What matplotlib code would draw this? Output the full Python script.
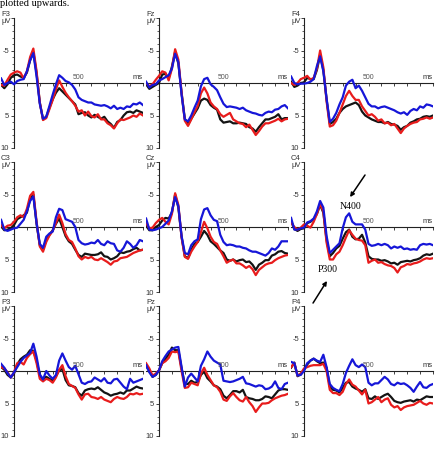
import numpy as np
import matplotlib
matplotlib.use("Agg")
import matplotlib.pyplot as plt
from matplotlib.ticker import MultipleLocator

# ERP grand averages, microvolts, one sample every 25 ms from -100 to 1000 ms
times = np.arange(-100, 1001, 25)

F3_black = [0.3, 0.8, 0.2, -0.8, -1.2, -1.3, -1.0, -0.8, -1.6, -3.5, -4.8, -1.5, 3.0, 5.6, 5.2, 3.8, 2.5, 1.5, 0.8, 1.3, 1.8, 2.3, 2.8, 3.3, 4.8, 4.6, 4.5, 5.0, 5.3, 4.9, 5.2, 5.5, 5.2, 5.9, 6.3, 6.9, 6.0, 5.7, 5.0, 4.5, 4.4, 4.6, 4.2, 4.4, 4.6]
F3_red = [0.3, 0.4, -0.5, -1.3, -1.6, -1.8, -1.6, -0.7, -1.8, -4.0, -5.3, -1.8, 3.0, 5.7, 5.4, 4.0, 2.6, 1.0, -0.4, 0.6, 1.5, 2.2, 2.8, 3.5, 4.4, 4.2, 5.0, 4.4, 5.1, 5.3, 4.8, 5.6, 5.6, 6.2, 6.5, 7.0, 6.2, 5.6, 5.7, 5.5, 5.3, 5.0, 5.2, 4.7, 5.0]
F3_blue = [-0.7, 0.3, 0.0, -0.2, 0.2, -0.3, -0.5, -0.6, -1.8, -3.5, -4.6, -1.0, 3.2, 5.5, 5.2, 3.5, 1.8, 0.2, -1.2, -0.8, -0.3, -0.1, 0.3, 1.0, 2.2, 2.6, 2.8, 3.0, 3.0, 3.3, 3.4, 3.5, 3.4, 3.6, 3.9, 3.5, 4.0, 3.8, 4.0, 3.6, 3.7, 3.2, 3.3, 3.0, 3.4]

Fz_black = [0.2, 0.9, 0.6, 0.3, 0.0, -1.3, -1.4, -0.7, -2.5, -4.8, -3.0, 1.5, 5.5, 6.4, 5.5, 4.7, 3.9, 2.7, 2.4, 2.6, 3.4, 3.8, 4.1, 5.6, 6.1, 6.0, 5.9, 6.2, 6.2, 6.1, 6.2, 6.3, 6.8, 7.0, 7.5, 6.8, 6.2, 5.6, 5.6, 5.4, 5.2, 4.8, 5.6, 5.4, 5.4]
Fz_red = [0.0, 0.5, 0.2, -0.5, -1.1, -1.8, -1.6, -0.4, -2.2, -5.2, -3.6, 1.5, 5.8, 6.6, 5.6, 4.5, 3.5, 1.6, 0.7, 1.6, 3.0, 3.6, 4.0, 4.8, 5.2, 4.9, 4.6, 5.6, 5.9, 6.2, 6.3, 6.8, 6.4, 7.2, 8.0, 7.4, 6.7, 6.2, 6.2, 6.0, 5.8, 5.5, 5.9, 5.6, 5.5]
Fz_blue = [-0.2, 0.7, 0.3, 0.2, -0.4, -0.6, -0.9, -1.2, -2.2, -4.5, -3.2, 1.8, 5.6, 5.9, 5.0, 3.8, 2.7, 0.5, -0.6, -0.8, 0.2, 0.6, 1.1, 2.2, 3.2, 3.7, 3.6, 3.7, 3.8, 4.0, 3.8, 4.2, 4.4, 4.6, 4.7, 4.9, 5.0, 4.6, 4.4, 4.5, 4.1, 4.0, 3.6, 3.4, 3.9]

F4_black = [-0.2, 0.6, 0.4, 0.0, -0.1, -0.8, -0.6, -0.6, -2.0, -4.3, -2.0, 2.5, 6.3, 6.0, 5.5, 4.6, 4.0, 3.6, 3.4, 3.2, 3.0, 3.4, 4.4, 5.0, 5.3, 5.6, 5.8, 6.0, 6.0, 6.2, 6.0, 6.3, 6.4, 6.6, 7.2, 6.8, 6.6, 6.1, 5.9, 5.6, 5.5, 5.2, 5.1, 5.2, 5.0]
F4_red = [0.0, 0.3, 0.0, -0.6, -0.8, -1.1, -0.5, -0.8, -2.2, -5.0, -2.4, 2.8, 6.7, 6.5, 5.8, 4.6, 3.3, 2.0, 1.2, 2.0, 2.6, 2.6, 3.6, 4.3, 5.0, 4.8, 5.2, 5.8, 5.6, 6.2, 6.1, 6.5, 6.3, 7.0, 7.7, 7.0, 6.6, 6.3, 6.1, 6.0, 5.6, 5.5, 5.3, 5.5, 5.3]
F4_blue = [-1.0, 0.0, 0.2, 0.1, 0.1, 0.0, -0.2, -0.6, -2.6, -4.1, -1.8, 2.4, 6.0, 5.5, 4.6, 3.3, 2.2, 0.4, -0.2, -0.5, 0.8, 0.4, 1.2, 2.2, 3.2, 3.6, 3.6, 3.9, 3.7, 3.6, 3.8, 4.0, 4.2, 4.5, 4.7, 4.5, 4.9, 4.3, 4.0, 4.2, 3.6, 3.8, 3.3, 3.4, 3.6]

C3_black = [-0.1, 0.5, 0.4, 0.2, -0.3, -1.2, -1.5, -1.8, -2.2, -4.4, -5.0, -0.5, 2.8, 3.5, 2.0, 1.2, 0.5, -0.5, -1.3, 0.0, 1.4, 2.2, 2.6, 3.5, 4.3, 4.6, 4.1, 4.2, 4.3, 4.3, 4.2, 3.9, 4.5, 4.6, 5.0, 4.8, 4.5, 3.9, 4.0, 3.8, 3.7, 3.4, 3.2, 3.6, 3.5]
C3_red = [-0.3, 0.2, -0.2, -0.3, -0.8, -1.5, -1.8, -1.5, -2.8, -4.8, -5.4, -0.8, 3.0, 3.8, 2.3, 1.3, 0.6, -0.6, -1.9, -0.6, 1.1, 2.0, 2.3, 3.3, 4.5, 5.0, 4.6, 4.8, 4.6, 5.0, 5.1, 4.8, 5.1, 5.4, 5.8, 5.3, 5.2, 4.8, 4.7, 4.6, 4.3, 4.0, 3.8, 3.6, 3.5]
C3_blue = [-1.1, 0.4, 0.6, 0.4, 0.2, 0.1, -0.5, -1.1, -2.4, -4.0, -4.7, -0.6, 2.6, 3.2, 1.5, 1.0, 0.7, -1.5, -2.8, -2.6, -1.2, -1.0, -0.8, 0.0, 2.0, 2.5, 2.7, 2.6, 2.4, 2.5, 2.0, 2.6, 2.8, 2.2, 2.5, 2.6, 3.6, 3.8, 3.2, 2.2, 2.6, 3.2, 2.8, 2.0, 2.2]

Cz_black = [-0.2, 0.5, 0.5, 0.0, -0.3, -1.0, -1.4, -1.3, -2.2, -5.0, -3.0, 1.5, 4.5, 4.8, 3.5, 2.6, 2.3, 1.5, 0.6, 1.2, 2.2, 2.6, 3.1, 3.6, 4.0, 5.0, 5.2, 5.0, 5.3, 5.1, 5.0, 5.4, 5.3, 5.8, 6.6, 5.8, 5.5, 5.1, 5.1, 4.4, 4.2, 3.8, 3.7, 4.0, 4.1]
Cz_red = [-0.6, 0.2, 0.1, -0.6, -1.1, -1.4, -0.8, -0.4, -2.0, -5.2, -3.4, 1.6, 4.6, 4.9, 3.8, 3.0, 2.3, 0.8, -0.8, 0.2, 1.5, 2.3, 2.6, 3.6, 4.5, 5.5, 5.2, 5.0, 5.6, 5.6, 5.9, 6.3, 6.0, 6.5, 7.4, 6.6, 6.2, 5.8, 5.6, 5.5, 5.1, 4.8, 4.6, 4.4, 4.3]
Cz_blue = [-1.3, 0.4, 0.5, 0.4, 0.2, 0.0, -0.5, -1.0, -2.4, -4.6, -3.2, 1.4, 4.0, 4.2, 2.8, 2.2, 1.9, -1.2, -2.7, -2.9, -1.8, -1.1, -0.9, 1.2, 2.3, 2.8, 2.7, 2.8, 3.0, 3.0, 3.2, 3.3, 3.6, 3.8, 3.8, 4.0, 4.2, 4.4, 4.0, 3.3, 3.5, 3.0, 2.2, 2.2, 2.2]

C4_black = [-0.9, 0.3, 0.6, 0.3, 0.2, -0.6, -0.8, -1.2, -2.0, -3.4, -2.2, 2.0, 4.5, 4.0, 3.3, 2.9, 1.8, 0.8, 0.4, 1.5, 1.9, 1.8, 1.2, 2.4, 4.5, 4.9, 5.0, 5.0, 5.2, 5.1, 5.3, 5.6, 5.5, 5.8, 5.4, 5.3, 5.2, 5.3, 5.1, 5.0, 4.8, 4.4, 4.2, 4.3, 4.1]
C4_red = [-0.7, 0.0, 0.4, 0.1, -0.4, -0.2, 0.1, -0.8, -2.0, -3.6, -2.4, 2.4, 5.0, 5.0, 4.2, 3.8, 2.8, 1.6, 0.5, 1.2, 1.8, 2.0, 2.1, 2.8, 5.5, 5.2, 5.0, 5.5, 5.4, 5.7, 5.9, 6.0, 6.3, 7.0, 6.2, 6.0, 5.7, 5.8, 5.6, 5.5, 5.3, 5.0, 4.8, 4.9, 4.8]
C4_blue = [-1.4, 0.4, 0.4, 0.2, 0.1, -0.7, -0.9, -1.3, -2.4, -4.0, -3.0, 1.4, 4.0, 3.5, 3.0, 2.5, 0.2, -1.5, -2.1, -0.8, -0.4, -0.4, -0.4, 0.4, 2.6, 2.9, 2.8, 2.6, 2.8, 2.6, 2.8, 3.3, 3.0, 3.2, 3.0, 3.4, 3.3, 3.5, 3.4, 3.5, 2.8, 2.6, 2.7, 2.6, 2.8]

P3_black = [-0.6, -0.2, 0.6, 1.0, 0.4, -1.0, -1.8, -2.2, -2.5, -3.2, -3.1, -1.6, 0.8, 1.2, 0.9, 1.2, 1.5, 0.8, -0.1, -0.3, 1.4, 2.2, 2.3, 2.5, 3.4, 3.8, 3.0, 2.8, 2.7, 2.8, 2.5, 2.9, 3.3, 3.5, 3.8, 3.6, 3.5, 3.3, 3.5, 3.0, 3.0, 2.7, 2.4, 2.6, 2.7]
P3_red = [-0.6, -0.4, 0.2, 1.0, 0.2, -1.2, -1.4, -1.0, -2.0, -2.6, -3.0, -1.2, 1.2, 1.6, 1.2, 1.4, 1.8, 1.0, -0.2, -0.9, 0.8, 2.0, 2.3, 2.6, 3.6, 4.4, 3.6, 3.5, 4.0, 4.1, 4.3, 4.0, 4.4, 4.6, 4.8, 4.3, 4.0, 4.2, 4.3, 4.0, 3.5, 3.6, 3.4, 3.6, 3.5]
P3_blue = [-1.1, -0.5, 0.3, 1.0, 0.2, -0.6, -1.4, -2.0, -2.4, -2.8, -4.2, -2.2, 0.5, 1.3, 0.0, 0.7, 1.2, 0.6, -1.6, -2.7, -1.6, -0.6, -0.2, -0.8, 0.5, 1.8, 2.0, 1.7, 1.6, 1.0, 1.3, 1.6, 1.1, 1.8, 1.9, 1.3, 1.2, 1.8, 2.4, 2.8, 1.2, 1.8, 1.6, 1.4, 1.2]

Pz_black = [-0.8, 0.0, 0.9, 0.6, -0.1, -1.2, -1.9, -2.5, -3.6, -3.2, -3.2, -0.4, 2.0, 2.0, 1.5, 1.8, 1.7, 0.6, 0.1, 1.1, 1.6, 2.2, 2.4, 2.8, 3.8, 4.2, 3.7, 3.1, 3.1, 3.3, 2.9, 4.0, 4.2, 4.3, 4.5, 4.5, 4.3, 3.9, 4.0, 4.2, 3.6, 3.0, 2.8, 2.8, 2.9]
Pz_red = [-1.2, -0.4, 0.7, 0.4, -0.1, -1.2, -1.5, -2.0, -3.0, -2.9, -3.0, 0.0, 2.6, 2.5, 1.8, 2.0, 2.2, 0.4, -0.5, 0.6, 1.4, 2.2, 2.5, 3.2, 4.4, 4.6, 3.9, 3.4, 4.0, 4.5, 4.7, 4.0, 4.8, 5.4, 6.3, 5.6, 5.0, 5.0, 4.9, 4.5, 4.2, 4.0, 3.8, 3.7, 3.5]
Pz_blue = [-0.9, 0.2, 0.9, 0.6, -0.1, -1.5, -2.3, -3.0, -3.3, -3.6, -3.7, -0.6, 2.4, 1.0, 0.4, 1.0, 1.6, -0.8, -1.8, -3.0, -2.2, -1.6, -1.3, -1.0, 1.5, 1.6, 1.7, 1.6, 1.4, 1.2, 0.9, 1.9, 2.0, 2.2, 2.4, 2.2, 2.3, 2.8, 2.7, 2.4, 1.6, 2.6, 2.8, 2.0, 1.8]

P4_black = [-0.5, -1.3, 0.8, 0.5, -0.2, -1.0, -1.6, -1.9, -1.5, -1.2, -1.3, -0.5, 2.4, 2.9, 3.0, 3.3, 2.6, 1.8, 1.7, 2.4, 2.7, 2.9, 3.2, 2.8, 4.2, 4.3, 3.9, 4.3, 4.0, 3.7, 3.5, 4.0, 4.6, 4.8, 4.9, 4.7, 4.6, 4.5, 4.7, 4.4, 4.5, 4.2, 3.9, 4.0, 4.0]
P4_red = [-0.6, -1.2, 0.7, 0.4, -0.4, -0.6, -0.8, -0.9, -0.9, -0.9, -1.1, 0.0, 2.9, 3.4, 3.4, 3.7, 3.2, 2.0, 1.3, 2.1, 2.4, 3.0, 3.6, 2.9, 5.0, 4.8, 4.4, 4.0, 4.8, 4.4, 4.2, 5.2, 5.6, 5.4, 6.0, 5.6, 5.4, 5.3, 5.2, 4.9, 4.6, 5.0, 5.2, 4.9, 5.0]
P4_blue = [-1.4, -1.2, 0.7, 0.6, 0.0, -1.2, -1.6, -1.9, -1.6, -1.4, -2.5, -0.6, 2.0, 2.6, 2.9, 3.1, 2.0, 0.3, -0.8, -1.8, -0.9, -0.6, -1.0, -0.6, 1.8, 2.2, 1.9, 1.9, 1.4, 0.9, 1.3, 2.0, 2.2, 1.8, 2.0, 1.9, 2.2, 2.6, 3.2, 2.4, 1.7, 2.5, 2.6, 2.2, 2.0]

channels = ["F3", "Fz", "F4", "C3", "Cz", "C4", "P3", "Pz", "P4"]
waves = {
    "F3": (F3_black, F3_red, F3_blue), "Fz": (Fz_black, Fz_red, Fz_blue),
    "F4": (F4_black, F4_red, F4_blue), "C3": (C3_black, C3_red, C3_blue),
    "Cz": (Cz_black, Cz_red, Cz_blue), "C4": (C4_black, C4_red, C4_blue),
    "P3": (P3_black, P3_red, P3_blue), "Pz": (Pz_black, Pz_red, Pz_blue),
    "P4": (P4_black, P4_red, P4_blue),
}
COLORS = ["#141414", "#e81c1c", "#1616d8"]
INK = "#222222"
SANS = ["Liberation Sans", "DejaVu Sans"]
SERIF = ["Liberation Serif", "DejaVu Serif"]

W, H = 437, 455
fig = plt.figure(figsize=(W / 100, H / 100), dpi=100)

# panel geometry in pixels: y-axis x position per column, zero line y per row
axis_x = [14, 159, 304]
zero_y = [83, 227, 371]
px_ms, px_uv = 0.129, 6.5

axes = {}
for i, ch in enumerate(channels):
    r, c = divmod(i, 3)
    left = axis_x[c] - 100 * px_ms
    top = zero_y[r] - 10 * px_uv
    ax = fig.add_axes([left / W, 1 - (top + 20 * px_uv) / H,
                       1100 * px_ms / W, 20 * px_uv / H])
    ax.set_facecolor("none")
    ax.set_xlim(-100, 1000)
    ax.set_ylim(10, -10)
    for s in ("top", "right"):
        ax.spines[s].set_visible(False)
    ax.spines["left"].set_position(("data", 0))
    ax.spines["bottom"].set_position(("data", 0))
    for s in ("left", "bottom"):
        ax.spines[s].set_color(INK)
        ax.spines[s].set_linewidth(0.8)
    ax.set_xticks(np.arange(100, 1001, 100))
    ax.set_xticklabels([])
    ax.tick_params(axis="x", direction="out", length=2, width=0.6, color=INK)
    ax.set_yticks([-10, -5, 5, 10])
    ax.set_yticklabels(["", "-5", "5", "10"], family=SANS, fontsize=5.5, color="#333333")
    ax.yaxis.set_minor_locator(MultipleLocator(1))
    ax.tick_params(axis="y", which="major", direction="out", length=2.5, width=0.6,
                   color=INK, pad=1)
    ax.tick_params(axis="y", which="minor", direction="out", length=1.3, width=0.5,
                   color=INK)

    for vals, col in zip(waves[ch], COLORS):
        ax.plot(times, vals, color=col, lw=1.6, solid_joinstyle="round", zorder=3)

    ax.text(-100, -10.6, ch, family=SANS, fontsize=5.5, ha="left", va="center",
            color="#333333", clip_on=False)
    ax.text(-100, -9.4, "\u03bcV", family=SANS, fontsize=5.5, ha="left", va="center",
            color="#333333", clip_on=False)
    ax.text(500, -0.6, "500", family=SANS, fontsize=5, ha="center", va="baseline",
            color="#555555")
    ax.text(995, -0.6, "ms", family=SANS, fontsize=5.5, ha="right", va="baseline",
            color="#333333")
    axes[ch] = ax

# component labels on C4
ax = axes["C4"]
arrow = dict(arrowstyle="-|>", color="black", lw=1.1, mutation_scale=6,
             shrinkA=0, shrinkB=0)
ax.annotate("", xy=(357, -4.6), xytext=(473, -8.0), arrowprops=arrow,
            annotation_clip=False)
ax.text(364, -3.1, "N400", family=SERIF, fontsize=7, ha="center", va="center")
ax.annotate("", xy=(178, 8.3), xytext=(70, 11.7), arrowprops=arrow,
            annotation_clip=False)
ax.text(186, 6.6, "P300", family=SERIF, fontsize=7, ha="center", va="center")

# caption line, cut at the top edge as in the source figure
fig.text(0.0, 1 - 5.5 / H, "plotted upwards.", family=SERIF, fontsize=7.5,
         ha="left", va="baseline")

fig.savefig("out.png", dpi=100)
